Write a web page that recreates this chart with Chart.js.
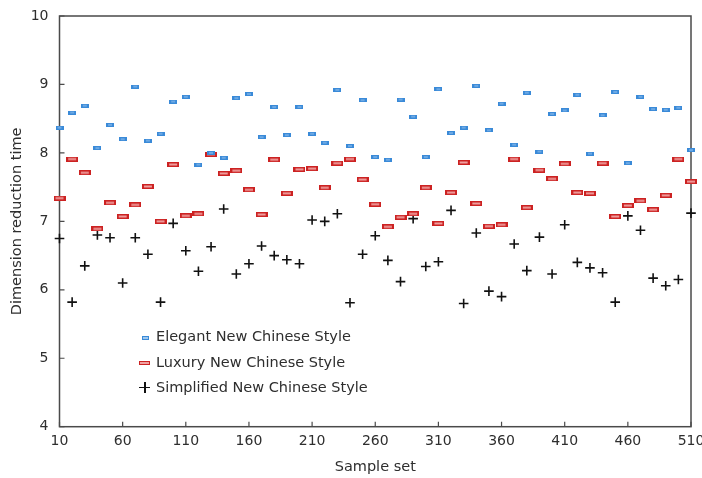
<!DOCTYPE html>
<html>
<head>
<meta charset="utf-8">
<title>Dimension reduction time</title>
<script src="https://cdn.jsdelivr.net/npm/chart.js@4/dist/chart.umd.min.js"></script>
<style>
  html, body { margin: 0; padding: 0; background: #fff; }
  #wrap { position: relative; width: 702px; height: 478px; }
  #legend { position: absolute; left: 136px; top: 325px; font-family: "DejaVu Sans", Verdana, sans-serif; font-size: 14.5px; color: #2e2e2e; }
  .row { position: relative; height: 25.5px; line-height: 22px; padding-left: 20px; white-space: nowrap; }
  .mk { position: absolute; top: 50%; }
  .mk-blue { left: 6px; width: 5px; height: 2px; margin-top: -2px; border: 1px solid #3a8ad8; background: #9fc8ef; }
  .mk-red { left: 3px; width: 9px; height: 2px; margin-top: -2px; border: 1.5px solid #cc2222; background: #f0a0a0; }
  .mk-plus { left: 3px; width: 11px; height: 11px; margin-top: -7px; }
  .mk-plus::before, .mk-plus::after { content: ""; position: absolute; background: #111; }
  .mk-plus::before { left: 0; top: 5px; width: 11px; height: 1.5px; }
  .mk-plus::after { left: 5px; top: 0; width: 1.5px; height: 11px; }
</style>
</head>
<body>
<div id="wrap">
  <canvas id="grafico" width="702" height="478"></canvas>
  <div id="legend">
    <div class="row"><span class="mk mk-blue"></span>Elegant New Chinese Style</div>
    <div class="row"><span class="mk mk-red"></span>Luxury New Chinese Style</div>
    <div class="row"><span class="mk mk-plus"></span>Simplified New Chinese Style</div>
  </div>
</div>
<script>
// amostras (eixo x) e valores
const amostras = [10, 20, 30, 40, 50, 60, 70, 80, 90, 100, 110, 120, 130, 140, 150, 160, 170, 180, 190, 200,
  210, 220, 230, 240, 250, 260, 270, 280, 290, 300, 310, 320, 330, 340, 350, 360, 370, 380, 390, 400,
  410, 420, 430, 440, 450, 460, 470, 480, 490, 500, 510];

const elegante = [8.37, 8.59, 8.69, 8.07, 8.41, 8.20, 8.97, 8.18, 8.28, 8.75, 8.82,
  7.83, 8.00, 7.93, 8.80, 8.86, 8.23, 8.67, 8.26, 8.67, 8.28,
  8.15, 8.92, 8.10, 8.77, 7.94, 7.90, 8.78, 8.53, 7.94, 8.93,
  8.29, 8.37, 8.98, 8.33, 8.72, 8.12, 8.88, 8.02, 8.57, 8.62,
  8.85, 7.99, 8.55, 8.89, 7.85, 8.82, 8.64, 8.63, 8.66, 8.04];

const luxo = [7.34, 7.91, 7.71, 6.89, 7.27, 7.07, 7.24, 7.51, 7.00, 7.83, 7.08,
  7.11, 7.98, 7.70, 7.74, 7.46, 7.10, 7.90, 7.41, 7.76, 7.77,
  7.49, 7.85, 7.91, 7.61, 7.25, 6.92, 7.06, 7.11, 7.49, 6.97,
  7.42, 7.86, 7.26, 6.93, 6.95, 7.91, 7.20, 7.75, 7.62, 7.84,
  7.42, 7.41, 7.85, 7.07, 7.23, 7.30, 7.17, 7.38, 7.91, 7.58];

const simplificado = [6.75, 5.82, 6.35, 6.80, 6.76, 6.10, 6.76, 6.52, 5.82, 6.97, 6.57,
  6.27, 6.63, 7.18, 6.23, 6.38, 6.64, 6.50, 6.44, 6.38, 7.02,
  7.00, 7.11, 5.81, 6.52, 6.79, 6.43, 6.12, 7.04, 6.34, 6.41,
  7.16, 5.80, 6.83, 5.98, 5.90, 6.67, 6.28, 6.77, 6.23, 6.95,
  6.40, 6.32, 6.25, 5.82, 7.08, 6.87, 6.17, 6.06, 6.15, 7.12];

const ticksX = [10, 60, 110, 160, 210, 260, 310, 360, 410, 460, 510];
const ticksY = [4, 5, 6, 7, 8, 9, 10];

function marcador(w, h, borda, miolo, inset) {
  const c = document.createElement("canvas");
  c.width = w; c.height = h;
  const g = c.getContext("2d");
  g.fillStyle = borda;
  g.fillRect(0, 0, w, h);
  g.fillStyle = miolo;
  g.fillRect(inset, 1.5, w - 2 * inset, h - 3);
  return c;
}
const mkAzul = marcador(8, 4, "#3a8ad8", "#9fc8ef", 2);
const mkVermelho = marcador(12, 5, "#cc2222", "#f0a0a0", 2);

const pontos = arr => arr.map((v, i) => ({ x: amostras[i], y: v }));

// moldura e ticks internos
const moldura = {
  id: "moldura",
  beforeDatasetsDraw(chart) {
    const { ctx, chartArea: a, scales } = chart;
    ctx.save();
    ctx.strokeStyle = "#4a4a4a";
    ctx.lineWidth = 1.5;
    ctx.strokeRect(a.left, a.top, a.right - a.left, a.bottom - a.top);
    ctx.lineWidth = 1.2;
    ctx.beginPath();
    ticksY.forEach(v => {
      const y = scales.y.getPixelForValue(v);
      ctx.moveTo(a.left, y); ctx.lineTo(a.left + 5, y);
    });
    ticksX.forEach(v => {
      const x = scales.x.getPixelForValue(v);
      ctx.moveTo(x, a.bottom); ctx.lineTo(x, a.bottom - 5);
    });
    ctx.stroke();
    ctx.restore();
  }
};

const fonte = { family: "'DejaVu Sans', Verdana, sans-serif", size: 14 };

new Chart(document.getElementById("grafico"), {
  type: "scatter",
  data: {
    datasets: [
      { label: "Elegant New Chinese Style", data: pontos(elegante), pointStyle: mkAzul, pointRadius: 4, clip: false },
      { label: "Luxury New Chinese Style", data: pontos(luxo), pointStyle: mkVermelho, pointRadius: 6, clip: false },
      { label: "Simplified New Chinese Style", data: pontos(simplificado), pointStyle: "cross", pointRadius: 4.8,
        borderColor: "#111", borderWidth: 1.6, clip: false }
    ]
  },
  options: {
    responsive: false,
    animation: false,
    layout: { padding: { top: 16, right: 11, left: 0, bottom: 0 } },
    plugins: { legend: { display: false }, tooltip: { enabled: false } },
    scales: {
      x: {
        type: "linear", min: 10, max: 510,
        afterBuildTicks: s => { s.ticks = ticksX.map(v => ({ value: v })); },
        afterFit: s => { s.height = 51.3; s.paddingLeft = 0; s.paddingRight = 0; },
        grid: { display: false, drawTicks: false },
        border: { display: false },
        ticks: { color: "#2e2e2e", font: fonte, padding: 6, maxRotation: 0, autoSkip: false },
        title: { display: true, text: "Sample set", color: "#2e2e2e", font: { ...fonte, size: 14.5 }, padding: { top: 0, bottom: 2 } }
      },
      y: {
        type: "linear", min: 4, max: 10,
        afterBuildTicks: s => { s.ticks = ticksY.map(v => ({ value: v })); },
        afterFit: s => { s.width = 59.5; s.paddingTop = 0; s.paddingBottom = 0; },
        grid: { display: false, drawTicks: false },
        border: { display: false },
        ticks: { color: "#2e2e2e", font: fonte, padding: 11 },
        title: { display: true, text: "Dimension reduction time", color: "#2e2e2e", font: { ...fonte, size: 14.5 }, padding: { top: 9, bottom: 0 } }
      }
    }
  },
  plugins: [moldura]
});
</script>
</body>
</html>
